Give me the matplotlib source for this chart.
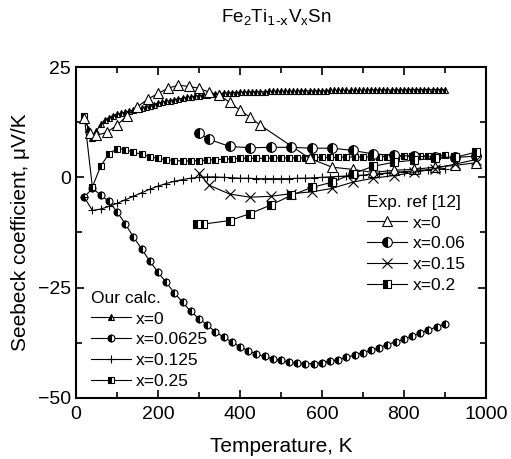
import numpy as np
import matplotlib.pyplot as plt
from matplotlib.ticker import MultipleLocator

plt.rcParams['font.family'] = ['Liberation Sans', 'DejaVu Sans']
plt.rcParams['mathtext.default'] = 'regular'

# ---- calculated curves ----
T_c0 = np.arange(20, 901, 10)
S_c0 = [14.0, 11.0, 9.0, 10.5, 12.0, 13.0, 13.5, 14.0, 14.3, 14.5,
        14.8, 15.0, 15.2, 15.5, 15.7, 16.0, 16.2, 16.5, 16.8, 17.0,
        17.2, 17.4, 17.6, 17.8, 17.9, 18.1, 18.2, 18.4, 18.5, 18.6,
        18.7, 18.8, 18.9, 19.0, 19.1, 19.1, 19.2, 19.2, 19.3, 19.3,
        19.3, 19.4, 19.4, 19.4, 19.4, 19.5, 19.5, 19.5, 19.5, 19.5,
        19.5, 19.5, 19.5, 19.6, 19.6, 19.6, 19.6, 19.6, 19.6, 19.6,
        19.7, 19.7, 19.7, 19.7, 19.7, 19.7, 19.7, 19.7, 19.7, 19.8,
        19.8, 19.8, 19.8, 19.8, 19.8, 19.8, 19.8, 19.8, 19.8, 19.9,
        19.9, 19.9, 19.9, 19.9, 19.9, 19.9, 19.9, 19.9, 19.9]

T_c = np.arange(20, 901, 20)
S_c0625 = [-4.5, -2.5, -4.0, -5.4, -7.8, -10.5, -13.5, -16.2, -19.0, -21.5,
           -23.8, -26.2, -28.3, -30.4, -32.0, -33.5, -35.0, -36.2, -37.3, -38.4,
           -39.3, -40.0, -40.6, -41.1, -41.5, -41.9, -42.1, -42.2, -42.2, -42.0,
           -41.7, -41.3, -40.8, -40.3, -39.7, -39.2, -38.6, -37.9, -37.3, -36.7,
           -36.0, -35.3, -34.6, -33.9, -33.2]
S_c125 = [-4.5, -7.5, -7.2, -6.6, -5.9, -5.1, -4.3, -3.5, -2.7, -2.0,
          -1.4, -0.9, -0.5, -0.2, 0.0, 0.1, 0.1, 0.0, -0.1, -0.2,
          -0.2, -0.3, -0.3, -0.3, -0.3, -0.3, -0.2, -0.2, -0.1, 0.0,
          0.1, 0.2, 0.3, 0.4, 0.5, 0.7, 0.8, 1.0, 1.1, 1.3,
          1.4, 1.6, 1.7, 1.9, 2.0]
S_c25 = [14.0, -2.2, 2.5, 5.3, 6.5, 6.3, 5.7, 5.2, 4.7, 4.3,
         4.0, 3.8, 3.7, 3.7, 3.8, 3.9, 4.0, 4.1, 4.2, 4.3,
         4.3, 4.3, 4.3, 4.4, 4.4, 4.4, 4.4, 4.4, 4.5, 4.5,
         4.5, 4.5, 4.6, 4.6, 4.6, 4.6, 4.7, 4.7, 4.7, 4.8,
         4.8, 4.8, 4.9, 4.9, 5.0]

# ---- experiment, ref [12] ----
T_e0 = [20, 35, 50, 75, 100, 125, 150, 175, 200, 225, 250, 275, 300, 325,
        350, 375, 400, 425, 450, 570, 625, 675, 725, 775, 825, 875, 925, 975]
S_e0 = [13.5, 10.0, 9.5, 10.2, 11.8, 14.0, 16.0, 17.7, 19.0, 20.2, 20.9, 20.6,
        20.2, 19.3, 18.6, 17.0, 15.2, 13.6, 11.8, 4.3, 2.3, 1.8, 1.1, 1.6,
        1.8, 2.3, 2.7, 3.3]
T_e = [300, 325, 375, 425, 475, 525, 575, 625, 675, 725, 775, 825, 875, 925, 975]
S_e06 = [10.0, 8.6, 7.0, 6.7, 6.8, 6.8, 6.6, 6.6, 6.1, 5.3, 5.0, 4.8, 4.6, 4.5, 4.8]
S_e15 = [0.9, -1.8, -3.8, -4.5, -4.3, -3.7, -3.3, -2.5, -1.1, -0.2, 0.4, 1.1,
         2.0, 3.0, 4.0]
T_e2 = [295, 310, 375, 425, 475, 525, 575, 625, 675, 725, 775, 825, 875, 925, 975]
S_e2 = [-10.6, -10.6, -9.8, -8.2, -6.3, -4.1, -2.3, -1.1, 0.8, 2.5, 3.4, 3.9,
        4.3, 4.5, 5.7]

fig = plt.figure(figsize=(5.11, 4.59), dpi=100)
ax = fig.add_axes([0.1487, 0.133, 0.802, 0.721])

lw = 0.8
half = dict(fillstyle='left', markerfacecolor='black', markerfacecoloralt='white',
            markeredgecolor='black', markeredgewidth=0.8)

c1, = ax.plot(T_c0, S_c0, '-', color='black', lw=lw, marker='^', ms=4, **half)
c2, = ax.plot(T_c, S_c0625, '-', color='black', lw=lw, marker='o', ms=5, **half)
c3, = ax.plot(T_c, S_c125, '-', color='black', lw=lw, marker='+', ms=6, mew=0.8)
c4, = ax.plot(T_c, S_c25, '-', color='black', lw=lw, marker='s', ms=5, **half)

e1, = ax.plot(T_e0, S_e0, '-', color='black', lw=lw, marker='^', ms=7,
              mfc='white', mec='black', mew=0.8)
e2, = ax.plot(T_e, S_e06, '-', color='black', lw=lw, marker='o', ms=7, **half)
e3, = ax.plot(T_e, S_e15, '-', color='black', lw=lw, marker='x', ms=7, mew=0.8)
e4, = ax.plot(T_e2, S_e2, '-', color='black', lw=lw, marker='s', ms=6, **half)

ax.set_xlim(0, 1000)
ax.set_ylim(-50, 25)
ax.xaxis.set_major_locator(MultipleLocator(200))
ax.xaxis.set_minor_locator(MultipleLocator(100))
ax.yaxis.set_major_locator(MultipleLocator(25))
ax.yaxis.set_minor_locator(MultipleLocator(12.5))
ax.tick_params(which='both', direction='in', top=True, right=True, labelsize=14, width=1.2)
ax.tick_params(which='major', length=6)
ax.tick_params(which='minor', length=4)
ax.tick_params(axis='x', pad=6)
for s in ax.spines.values():
    s.set_linewidth(1.5)

ax.set_xlabel('Temperature, K', fontsize=15, labelpad=10)
ax.set_ylabel('Seebeck coefficient, \u03bcV/K', fontsize=15, labelpad=6)
fig.text(0.54, 0.963, r'Fe$_2$Ti$_{\text{1-x}}$V$_x$Sn', ha='center', va='center',
         fontsize=13.5)

leg1 = ax.legend([c1, c2, c3, c4], ['x=0', 'x=0.0625', 'x=0.125', 'x=0.25'],
                 title='Our calc.', loc='upper left', bbox_to_anchor=(0.015, 0.35),
                 frameon=False, fontsize=12.5, title_fontsize=12.5, alignment='left',
                 handlelength=2.3, handletextpad=0.3, labelspacing=0.32, borderpad=0)
ax.add_artist(leg1)
ax.legend([e1, e2, e3, e4], ['x=0', 'x=0.06', 'x=0.15', 'x=0.2'],
          title='Exp. ref [12]', loc='upper left', bbox_to_anchor=(0.69, 0.64),
          frameon=False, fontsize=12.5, title_fontsize=12.5, alignment='left',
          handlelength=2.3, handletextpad=0.3, labelspacing=0.32, borderpad=0)

fig.savefig('out.png', dpi=100)
